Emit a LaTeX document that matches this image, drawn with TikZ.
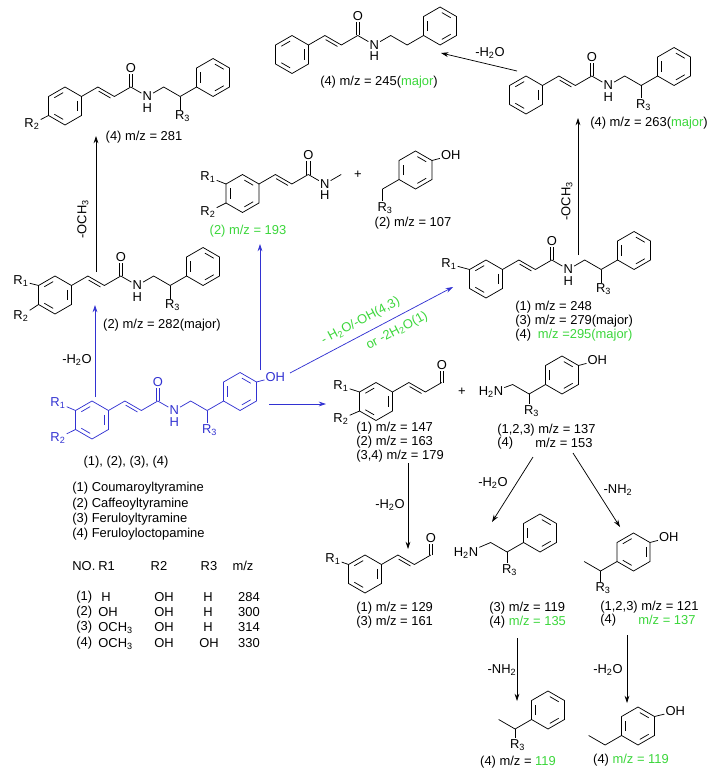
\documentclass[tikz,border=0pt]{standalone}
\usepackage{fontspec}
\setmainfont{Liberation Sans}
\usepackage{tikz}
\usetikzlibrary{arrows.meta,calc,positioning}
\definecolor{pathblue}{RGB}{50,50,210}
\definecolor{fraggreen}{RGB}{60,215,60}
\newcommand{\chsub}[1]{\textsubscript{#1}}
% benzene ring with pointed top, bond 19
\newcommand{\benz}[2]{%
  \coordinate (#1) at (#2);
  \path (#1) +(0,-19) coordinate (#1t) +(16.45,-9.5) coordinate (#1ur)
    +(16.45,9.5) coordinate (#1lr) +(0,19) coordinate (#1b)
    +(-16.45,9.5) coordinate (#1ll) +(-16.45,-9.5) coordinate (#1ul);
  \draw (#1t)--(#1ur)--(#1lr)--(#1b)--(#1ll)--(#1ul)--cycle;}
\newcommand{\inbond}[3]{\draw[shorten <=1.6pt,shorten >=1.6pt] ($(#1)!.76!(#2)$)--($(#1)!.76!(#3)$);}
\newcommand{\kekA}[1]{\inbond{#1}{#1ul}{#1t}\inbond{#1}{#1ur}{#1lr}\inbond{#1}{#1b}{#1ll}}
\newcommand{\kekB}[1]{\inbond{#1}{#1t}{#1ur}\inbond{#1}{#1lr}{#1b}\inbond{#1}{#1ll}{#1ul}}
% second line of a chain double bond
\newcommand{\dbl}[2]{\draw[shorten <=2pt,shorten >=2pt] ($(#1)!2.4pt!-90:(#2)$)--($(#2)!2.4pt!90:(#1)$);}
% C=O going up
\newcommand{\carbonyl}[2]{\draw ([xshift=-1.2pt]#1)--([xshift=-1.2pt]#2.south) ([xshift=1.2pt]#1)--([xshift=1.2pt]#2.south);}

\begin{document}
\begin{tikzpicture}[x=0.75pt,y=-0.75pt,line width=0.55pt,
  font=\fontsize{9.7}{11.6}\selectfont,
  atom/.style={inner sep=0.6pt},
  lbl/.style={inner sep=0pt},
  rxn/.style={-{Stealth[length=5.5pt,width=3.6pt]},line width=0.55pt},
  blurxn/.style={rxn,draw=pathblue}]
\fill[white] (0,0) rectangle (717,774);
\useasboundingbox (0,0) rectangle (717,774);

% (4) m/z = 281
\benz{ra}{65,106} \kekA{ra}
\node[atom] (aR2) at (32,124) {R\chsub{2}};
\draw (rall) -- (aR2);
\draw (raur) -- ++(16.45,-9.5) coordinate (a1) -- ++(16.45,9.5) coordinate (a2) -- ++(16.45,-9.5) coordinate (a3);
\dbl{a1}{a2}
\node[atom] (aO) at ($(a3)+(0,-19)$) {O};
\carbonyl{a3}{aO}
\node[atom] (aN) at ($(a3)+(16.45,9.5)$) {N};
\node[atom,below=0pt of aN] (aH) {H};
\path (aN) ++(16.45,-9.5) coordinate (a5) ++(16.45,9.5) coordinate (a6) ++(16.45,-9.5) coordinate (a7);
\draw (a3) -- (aN) -- (a5) -- (a6) -- (a7);
\node[atom] (aR3) at ($(a6)+(2.5,20)$) {R\chsub{3}};
\draw (a6) -- (a6 |- aR3.north);
\benz{ra2}{$(a7)+(16.45,-9.5)$} \kekB{ra2}
\node[lbl] (aLbl) at (144,137) {(4) m/z = 281};

% (2) m/z = 282(major)
\benz{rb}{55,295} \kekA{rb}
\node[atom] (bR1) at (21,281) {R\chsub{1}};
\node[atom] (bR2) at (21,316) {R\chsub{2}};
\draw (rbul) -- (bR1) (rbll) -- (bR2);
\draw (rbur) -- ++(16.45,-9.5) coordinate (b1) -- ++(16.45,9.5) coordinate (b2) -- ++(16.45,-9.5) coordinate (b3);
\dbl{b1}{b2}
\node[atom] (bO) at ($(b3)+(0,-19)$) {O};
\carbonyl{b3}{bO}
\node[atom] (bN) at ($(b3)+(16.45,9.5)$) {N};
\node[atom,below=0pt of bN] (bH) {H};
\path (bN) ++(16.45,-9.5) coordinate (b5) ++(16.45,9.5) coordinate (b6) ++(16.45,-9.5) coordinate (b7);
\draw (b3) -- (bN) -- (b5) -- (b6) -- (b7);
\node[atom] (bR3) at ($(b6)+(2.5,20)$) {R\chsub{3}};
\draw (b6) -- (b6 |- bR3.north);
\benz{rb2}{$(b7)+(16.45,-9.5)$} \kekB{rb2}
\node[lbl] (bLbl) at (162,325) {(2) m/z = 282(major)};

\coordinate (bUp) at (96,272);
\coordinate (aDown) at (96,136);
\draw[rxn] (bUp) -- (aDown);
\node[rotate=90] (lblBA) at (83,219) {-OCH\chsub{3}};

% parent compounds (blue)
\begin{scope}[pathblue]
\benz{rm}{92,420} \kekA{rm}
\node[atom] (mR1) at (58,403) {R\chsub{1}};
\node[atom] (mR2) at (58,438) {R\chsub{2}};
\draw (rmul) -- (mR1) (rmll) -- (mR2);
\draw (rmur) -- ++(16.45,-9.5) coordinate (m1) -- ++(16.45,9.5) coordinate (m2) -- ++(16.45,-9.5) coordinate (m3);
\dbl{m1}{m2}
\node[atom] (mO) at ($(m3)+(0,-19)$) {O};
\carbonyl{m3}{mO}
\node[atom] (mN) at ($(m3)+(16.45,9.5)$) {N};
\node[atom,below=0pt of mN] (mH) {H};
\path (mN) ++(16.45,-9.5) coordinate (m5) ++(16.45,9.5) coordinate (m6) ++(16.45,-9.5) coordinate (m7);
\draw (m3) -- (mN) -- (m5) -- (m6) -- (m7);
\node[atom] (mR3) at ($(m6)+(2.5,19.5)$) {R\chsub{3}};
\draw (m6) -- (m6 |- mR3.north);
\benz{rm2}{$(m7)+(16.45,-9.5)$} \kekB{rm2}
\node[atom,anchor=west] (mOH) at ($(rm2ur)+(8,-5)$) {OH};
\draw (rm2ur) -- (mOH);
\end{scope}
\node[lbl] (mLbl) at (126,462) {(1), (2), (3), (4)};
\node[lbl,anchor=west] (name1) at (72,488) {(1) Coumaroyltyramine};
\node[lbl,anchor=west] (name2) at (72,504) {(2) Caffeoyltyramine};
\node[lbl,anchor=west] (name3) at (72,519) {(3) Feruloyltyramine};
\node[lbl,anchor=west] (name4) at (72,534) {(4) Feruloyloctopamine};

% table
\node[lbl,anchor=west] (tNo) at (72,566) {NO.};
\node[lbl,anchor=west] (tR1) at (98,566) {R1};
\node[lbl] (tR2) at (159,566) {R2};
\node[lbl] (tR3) at (209,566) {R3};
\node[lbl] (tMz) at (243,566) {m/z};
\node[lbl,anchor=west] (t1a) at (76,597) {(1)};
\node[lbl] (t1b) at (106,597) {H};
\node[lbl] (t1c) at (164,597) {OH};
\node[lbl] (t1d) at (208,597) {H};
\node[lbl] (t1e) at (249,597) {284};
\node[lbl,anchor=west] (t2a) at (76,612) {(2)};
\node[lbl,anchor=west] (t2b) at (98,612) {OH};
\node[lbl] (t2c) at (164,612) {OH};
\node[lbl] (t2d) at (208,612) {H};
\node[lbl] (t2e) at (249,612) {300};
\node[lbl,anchor=west] (t3a) at (76,627) {(3)};
\node[lbl,anchor=west] (t3b) at (98,628) {OCH\chsub{3}};
\node[lbl] (t3c) at (164,627) {OH};
\node[lbl] (t3d) at (208,627) {H};
\node[lbl] (t3e) at (249,627) {314};
\node[lbl,anchor=west] (t4a) at (76,643) {(4)};
\node[lbl,anchor=west] (t4b) at (98,644) {OCH\chsub{3}};
\node[lbl] (t4c) at (164,643) {OH};
\node[lbl] (t4d) at (209,643) {OH};
\node[lbl] (t4e) at (249,643) {330};

% blue arrows
\coordinate (mUp) at (95,397);
\coordinate (bIn) at (95,305);
\draw[blurxn] (mUp) -- (bIn);
\node (lblMB) at (77,360) {-H\chsub{2}O};
\coordinate (mOHup) at (260,370);
\coordinate (cIn) at (260,244);
\draw[blurxn] (mOHup) -- (cIn);
\coordinate (mOHr) at (290,373);
\coordinate (gIn) at (453,287);
\draw[blurxn] (mOHr) -- node[sloped,above=1.5pt,pos=.47,text=fraggreen] (lblMG1) {- H\chsub{2}O/-OH(4,3)}
  node[sloped,below=1.5pt,pos=.62,text=fraggreen] (lblMG2) {or -2H\chsub{2}O(1)} (gIn);
\coordinate (mRight) at (269,404);
\coordinate (hIn) at (326,404);
\draw[blurxn] (mRight) -- (hIn);

% (2) m/z = 193
\benz{rc}{242.5,193.5} \kekB{rc}
\node[atom] (cR1) at (208,177) {R\chsub{1}};
\node[atom] (cR2) at (208,212) {R\chsub{2}};
\draw (rcul) -- (cR1) (rcll) -- (cR2);
\draw (rcur) -- ++(16.45,-9.5) coordinate (c1) -- ++(16.45,9.5) coordinate (c2) -- ++(16.45,-9.5) coordinate (c3);
\dbl{c1}{c2}
\node[atom] (cO) at ($(c3)+(0,-19)$) {O};
\carbonyl{c3}{cO}
\node[atom] (cN) at ($(c3)+(16.45,9.5)$) {N};
\node[atom,below=0pt of cN] (cH) {H};
\path (cN) ++(16.45,-9.5) coordinate (c5);
\draw (c3) -- (cN) -- (c5);
\node[lbl,text=fraggreen] (cLbl) at (248,231) {(2) m/z = 193};
\node (plus1) at (358,175) {+};

% (2) m/z = 107
\benz{rd}{415.5,170} \kekB{rd}
\node[atom,anchor=west] (dOH) at ($(rdur)+(8,-5)$) {OH};
\draw (rdur) -- (dOH);
\path (rdll) ++(-16.45,9.5) coordinate (d1);
\draw (rdll) -- (d1);
\node[atom] (dR3) at ($(d1)+(2.5,19)$) {R\chsub{3}};
\draw (d1) -- (d1 |- dR3.north);
\node[lbl] (dLbl) at (413,223) {(2) m/z = 107};

% (4) m/z = 245
\benz{re}{292,54.5} \kekA{re}
\draw (reur) -- ++(16.45,-9.5) coordinate (e1) -- ++(16.45,9.5) coordinate (e2) -- ++(16.45,-9.5) coordinate (e3);
\dbl{e1}{e2}
\node[atom] (eO) at ($(e3)+(0,-19)$) {O};
\carbonyl{e3}{eO}
\node[atom] (eN) at ($(e3)+(16.45,9.5)$) {N};
\node[atom,below=0pt of eN] (eH) {H};
\path (eN) ++(16.45,-9.5) coordinate (e5) ++(16.45,9.5) coordinate (e6) ++(16.45,-9.5) coordinate (e7);
\draw (e3) -- (eN) -- (e5) -- (e6) -- (e7);
\benz{re2}{$(e7)+(16.45,-9.5)$} \kekB{re2}
\node[lbl] (eLbl) at (379,82) {(4) m/z = 245(\textcolor{fraggreen}{major})};

% (4) m/z = 263
\benz{rf}{526,95} \kekA{rf}
\draw (rfur) -- ++(16.45,-9.5) coordinate (f1) -- ++(16.45,9.5) coordinate (f2) -- ++(16.45,-9.5) coordinate (f3);
\dbl{f1}{f2}
\node[atom] (fO) at ($(f3)+(0,-19)$) {O};
\carbonyl{f3}{fO}
\node[atom] (fN) at ($(f3)+(16.45,9.5)$) {N};
\node[atom,below=0pt of fN] (fH) {H};
\path (fN) ++(16.45,-9.5) coordinate (f5) ++(16.45,9.5) coordinate (f6) ++(16.45,-9.5) coordinate (f7);
\draw (f3) -- (fN) -- (f5) -- (f6) -- (f7);
\node[atom] (fR3) at ($(f6)+(2.5,19.5)$) {R\chsub{3}};
\draw (f6) -- (f6 |- fR3.north);
\benz{rf2}{$(f7)+(16.45,-9.5)$} \kekB{rf2}
\node[lbl] (fLbl) at (649,123) {(4) m/z = 263(\textcolor{fraggreen}{major})};

\coordinate (fOut) at (517,71);
\coordinate (eIn) at (441,53);
\draw[rxn] (fOut) -- (eIn);
\node (lblFE) at (490,53) {-H\chsub{2}O};

% (1) 248 / (3) 279 / (4) 295
\benz{rg}{486,279} \kekA{rg}
\node[atom] (gR1) at (449,264) {R\chsub{1}};
\draw (rgul) -- (gR1);
\draw (rgur) -- ++(16.45,-9.5) coordinate (g1) -- ++(16.45,9.5) coordinate (g2) -- ++(16.45,-9.5) coordinate (g3);
\dbl{g1}{g2}
\node[atom] (gO) at ($(g3)+(0,-19)$) {O};
\carbonyl{g3}{gO}
\node[atom] (gN) at ($(g3)+(16.45,9.5)$) {N};
\node[atom,below=0pt of gN] (gH) {H};
\path (gN) ++(16.45,-9.5) coordinate (g5) ++(16.45,9.5) coordinate (g6) ++(16.45,-9.5) coordinate (g7);
\draw (g3) -- (gN) -- (g5) -- (g6) -- (g7);
\node[atom] (gR3) at ($(g6)+(2.5,20)$) {R\chsub{3}};
\draw (g6) -- (g6 |- gR3.north);
\benz{rg2}{$(g7)+(16.45,-9.5)$} \kekB{rg2}
\node[lbl,anchor=west] (gL1) at (515,307) {(1) m/z = 248};
\node[lbl,anchor=west] (gL2) at (515,321) {(3) m/z = 279(major)};
\node[lbl,anchor=west] (gL3) at (515,335) {(4)\hspace{5pt}\textcolor{fraggreen}{m/z =295(major)}};

\coordinate (gUp) at (578,255);
\coordinate (fDown) at (578,118);
\draw[rxn] (gUp) -- (fDown);
\node[rotate=90] (lblGF) at (567,201) {-OCH\chsub{3}};

% cinnamaldehydes
\benz{rh}{376,401.5} \kekA{rh}
\node[atom] (hR1) at (341,386) {R\chsub{1}};
\node[atom] (hR2) at (341,419) {R\chsub{2}};
\draw (rhul) -- (hR1) (rhll) -- (hR2);
\draw (rhur) -- ++(16.45,-9.5) coordinate (h1) -- ++(16.45,9.5) coordinate (h2) -- ++(16.45,-9.5) coordinate (h3);
\dbl{h1}{h2}
\node[atom] (hO) at ($(h3)+(0,-17)$) {O};
\carbonyl{h3}{hO}
\node[lbl,anchor=west] (hL1) at (356,428) {(1) m/z = 147};
\node[lbl,anchor=west] (hL2) at (356,442) {(2) m/z = 163};
\node[lbl,anchor=west] (hL3) at (356,456) {(3,4) m/z = 179};
\node (plus2) at (462,392) {+};

\coordinate (hDown) at (408,463);
\coordinate (jUp) at (408,549);
\draw[rxn] (hDown) -- (jUp);
\node (lblHJ) at (390,505) {-H\chsub{2}O};

\benz{rj}{365,574} \kekA{rj}
\node[atom] (jR1) at (333,559) {R\chsub{1}};
\draw (rjul) -- (jR1);
\draw (rjur) -- ++(16.45,-9.5) coordinate (j1) -- ++(16.45,9.5) coordinate (j2) -- ++(16.45,-9.5) coordinate (j3);
\dbl{j1}{j2}
\node[atom] (jO) at ($(j3)+(0,-17)$) {O};
\carbonyl{j3}{jO}
\node[lbl,anchor=west] (jL1) at (356,608) {(1) m/z = 129};
\node[lbl,anchor=west] (jL2) at (356,622) {(3) m/z = 161};

% amines
\benz{ri}{562,375} \kekB{ri}
\node[atom,anchor=west] (iOH) at ($(riur)+(8,-5)$) {OH};
\draw (riur) -- (iOH);
\path (rill) ++(-16.45,9.5) coordinate (i2) ++(-16.45,-9.5) coordinate (i1);
\node[atom] (iN) at (491,392.5) {H\chsub{2}N};
\draw (rill) -- (i2) -- (i1) -- (iN);
\node[atom] (iR3) at ($(i2)+(2.5,17)$) {R\chsub{3}};
\draw (i2) -- (i2 |- iR3.north);
\node[lbl,anchor=west] (iL1) at (497,430) {(1,2,3) m/z = 137};
\node[lbl,anchor=west] (iL2) at (497,443) {(4)};
\node[lbl,anchor=west] (iL3) at (535,443) {m/z = 153};

\coordinate (iOutL) at (533,457);
\coordinate (kIn) at (492,522);
\draw[rxn] (iOutL) -- (kIn);
\node (lblIK) at (493,483) {-H\chsub{2}O};
\coordinate (iOutR) at (573,453);
\coordinate (lIn) at (620,527);
\draw[rxn] (iOutR) -- (lIn);
\node (lblIL) at (618,490) {-NH\chsub{2}};

\benz{rk}{540,533} \kekB{rk}
\path (rkll) ++(-16.45,9.5) coordinate (k2) ++(-16.45,-9.5) coordinate (k1);
\node[atom] (kN) at (466,553) {H\chsub{2}N};
\draw (rkll) -- (k2) -- (k1) -- (kN);
\node[atom] (kR3) at ($(k2)+(2.5,18)$) {R\chsub{3}};
\draw (k2) -- (k2 |- kR3.north);
\node[lbl,anchor=west] (kL1) at (489,608) {(3) m/z = 119};
\node[lbl,anchor=west] (kL2) at (489,622) {(4) \textcolor{fraggreen}{m/z = 135}};

\benz{rl}{633.5,552} \kekA{rl}
\node[atom,anchor=west] (lOH) at ($(rlur)+(8,-5)$) {OH};
\draw (rlur) -- (lOH);
\path (rlll) ++(-16.45,9.5) coordinate (l2) ++(-16.45,-9.5) coordinate (l1);
\draw (rlll) -- (l2) -- (l1);
\node[atom] (lR3) at ($(l2)+(2.5,17.5)$) {R\chsub{3}};
\draw (l2) -- (l2 |- lR3.north);
\node[lbl,anchor=west] (lL1) at (600,607) {(1,2,3) m/z = 121};
\node[lbl,anchor=west] (lL2) at (600,620) {(4)};
\node[lbl,anchor=west,text=fraggreen] (lL3) at (638,620) {m/z = 137};

\coordinate (kDown) at (517,638);
\coordinate (pIn) at (517,701);
\draw[rxn] (kDown) -- (pIn);
\node (lblKP) at (502,670) {-NH\chsub{2}};
\coordinate (lDown) at (627,635);
\coordinate (qIn) at (627,703);
\draw[rxn] (lDown) -- (qIn);
\node (lblLQ) at (608,670) {-H\chsub{2}O};

% (4) m/z = 119, both
\benz{rp}{548,710} \kekB{rp}
\path (rpll) ++(-16.45,9.5) coordinate (p2) ++(-16.45,-9.5) coordinate (p1);
\draw (rpll) -- (p2) -- (p1);
\node[atom] (pR3) at ($(p2)+(2.5,16)$) {R\chsub{3}};
\draw (p2) -- (p2 |- pR3.north);
\node[lbl] (pLbl) at (518,762) {(4) m/z = \textcolor{fraggreen}{119}};

\benz{rq}{638,726} \kekB{rq}
\node[atom,anchor=west] (qOH) at ($(rqur)+(10,-5)$) {OH};
\draw (rqur) -- (qOH);
\path (rqll) ++(-16.45,9.5) coordinate (q2) ++(-16.45,-9.5) coordinate (q1);
\draw (rqll) -- (q2) -- (q1);
\node[lbl] (qLbl) at (631,760) {(4) \textcolor{fraggreen}{m/z = 119}};
\end{tikzpicture}
\end{document}
